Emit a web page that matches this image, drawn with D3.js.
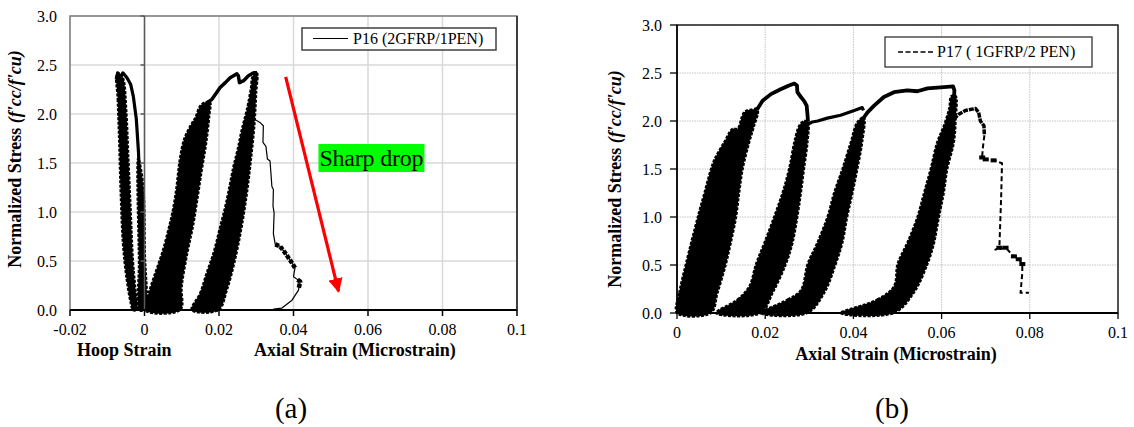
<!DOCTYPE html>
<html><head><meta charset="utf-8">
<script src="https://cdn.jsdelivr.net/npm/d3@7"></script>
<style>
html,body{margin:0;padding:0;background:#fff;}
svg{display:block;font-family:"Liberation Serif","Times New Roman",serif;}
</style></head>
<body>
<svg id="chart" width="1134" height="427"></svg>
<script>
// ---------- shared tick data ----------
const yTicks = [0, 0.5, 1.0, 1.5, 2.0, 2.5, 3.0];
const yTickLabels = ["0.0", "0.5", "1.0", "1.5", "2.0", "2.5", "3.0"];
const leftXTicks = [-0.02, 0, 0.02, 0.04, 0.06, 0.08, 0.1];
const leftXTickLabels = ["-0.02", "0", "0.02", "0.04", "0.06", "0.08", "0.1"];
const rightXTicks = [0, 0.02, 0.04, 0.06, 0.08, 0.1];
const rightXTickLabels = ["0", "0.02", "0.04", "0.06", "0.08", "0.1"];

// ---------- P16 (2GFRP/1PEN) : hoop + axial, cyclic ----------
const p16HoopBand = [[-0.0074,2.41],[-0.0072,2.15],[-0.0068,1.71],[-0.0064,1.19],[-0.0058,0.68],[-0.0049,0.34],[-0.0037,0.07],[-0.0031,0],
  [-0.0021,0],[-0.0025,0.24],[-0.0031,0.51],[-0.0037,1.02],[-0.0043,1.54],[-0.0049,2.05],[-0.0056,2.35],[-0.0064,2.41]];
const p16HoopLine = [[-0.0076,2.35],[-0.0072,2.42],[-0.0065,2.37],[-0.0058,2.42],[-0.0047,2.37],[-0.0037,2.30],[-0.0030,2.18],[-0.0022,1.95],[-0.0016,1.60],[-0.0012,1.19],[-0.0008,0.68],[-0.0005,0.34],[-0.0003,0]];
const p16HoopInner = [[-0.0017,1.55],[-0.0015,0.5],[-0.0013,0],[0.0001,0],[0.0001,0.6],[-0.0004,1.3]];
const p16Band1 = [[0,0],[0.0011,0.17],[0.0029,0.38],[0.0047,0.58],[0.0064,0.82],[0.0076,1.02],[0.0085,1.23],[0.0091,1.43],[0.0096,1.57],[0.0106,1.74],[0.0123,1.88],[0.0136,1.96],[0.0149,2.08],[0.0163,2.12],
  [0.0176,2.12],[0.0174,1.98],[0.0166,1.71],[0.0154,1.43],[0.0142,1.13],[0.0130,0.85],[0.0115,0.58],[0.0100,0.24],[0.0096,0]];
const p16Band2 = [[0.0127,0],[0.0149,0.17],[0.0167,0.38],[0.0185,0.58],[0.0203,0.85],[0.0217,1.06],[0.0228,1.26],[0.0239,1.47],[0.0250,1.64],[0.0261,1.84],[0.0275,2.05],[0.0285,2.25],[0.0291,2.39],
  [0.0302,2.42],[0.0300,2.22],[0.0295,1.88],[0.0286,1.54],[0.0275,1.19],[0.0261,0.85],[0.0243,0.51],[0.0221,0.20],[0.0199,0]];
const p16Envelope = [[0.0170,2.12],[0.0181,2.15],[0.0190,2.20],[0.0203,2.27],[0.0217,2.32],[0.0230,2.37],[0.0248,2.41],[0.0252,2.39],[0.0255,2.32],[0.0266,2.34],[0.0279,2.39],[0.0293,2.42],[0.0302,2.42]];
const p16PostPeak = [[0.0294,1.95],[0.0311,1.91],[0.0319,1.88],[0.0318,1.71],[0.0326,1.67],[0.0330,1.54],[0.0337,1.52],[0.0342,1.26],[0.0346,1.23],[0.0345,1.06],[0.0348,0.99],[0.0346,0.78],[0.0351,0.67],[0.0364,0.65],[0.0378,0.58],[0.0396,0.48],[0.0404,0.43],[0.0400,0.34],[0.0411,0.31],[0.0418,0.29],[0.0413,0.20],[0.0396,0.10],[0.0369,0.02],[0.0346,0.01]];
const p16PostPeakThickA = [[0.0351,0.67],[0.0364,0.65],[0.0378,0.58],[0.0396,0.48],[0.0404,0.43]];
const p16PostPeakThickB = [[0.0411,0.31],[0.0418,0.29],[0.0414,0.22]];
const p16Arrow = [[0.0379,2.38],[0.0521,0.19]];
const p16NoteAnchor = [0.0467, 1.50];

// ---------- P17 (1GFRP/2 PEN) : axial, cyclic ----------
const p17Band1 = [[0,0],[0.0005,0.21],[0.0020,0.51],[0.0047,1.00],[0.0062,1.25],[0.0077,1.50],[0.0085,1.60],[0.0107,1.78],[0.0126,1.92],[0.0137,1.92],[0.0152,2.09],[0.0168,2.12],
  [0.0183,2.11],[0.0175,1.95],[0.0164,1.78],[0.0149,1.50],[0.0141,1.25],[0.0134,1.00],[0.0122,0.73],[0.0111,0.51],[0.0092,0.21],[0.0077,0]];
const p17Band2 = [[0.0088,0],[0.0137,0.14],[0.0164,0.28],[0.0179,0.51],[0.0198,0.73],[0.0220,1.00],[0.0239,1.25],[0.0254,1.50],[0.0266,1.78],[0.0277,1.95],[0.0288,2.00],
  [0.0297,1.99],[0.0296,1.78],[0.0288,1.50],[0.0281,1.25],[0.0273,1.00],[0.0262,0.73],[0.0247,0.51],[0.0217,0.21],[0.0190,0]];
const p17Band3 = [[0.0190,0],[0.0251,0.14],[0.0281,0.24],[0.0296,0.51],[0.0318,0.73],[0.0341,1.00],[0.0356,1.25],[0.0375,1.50],[0.0394,1.78],[0.0409,1.99],
  [0.0424,2.04],[0.0420,1.78],[0.0409,1.50],[0.0398,1.25],[0.0386,1.00],[0.0375,0.73],[0.0360,0.51],[0.0334,0.21],[0.0296,0]];
const p17Band4 = [[0.0371,0],[0.0454,0.14],[0.0492,0.28],[0.0500,0.51],[0.0522,0.73],[0.0545,1.00],[0.0560,1.25],[0.0575,1.50],[0.0590,1.78],[0.0605,1.95],[0.0617,2.13],[0.0622,2.26],
  [0.0632,2.26],[0.0632,2.02],[0.0628,1.78],[0.0613,1.50],[0.0605,1.25],[0.0594,1.00],[0.0583,0.73],[0.0568,0.51],[0.0537,0.21],[0.0492,0]];
const p17Envelope1 = [[0.0176,2.12],[0.0183,2.13],[0.0194,2.21],[0.0213,2.28],[0.0235,2.33],[0.0254,2.37],[0.0266,2.39],[0.0272,2.37],[0.0273,2.30],[0.0281,2.25],[0.0288,2.21],[0.0294,2.16],[0.0296,2.06],[0.0297,1.99]];
const p17Line2 = [[0.0295,1.96],[0.0307,1.99],[0.0319,2.00],[0.0341,2.03],[0.0371,2.06],[0.0402,2.11],[0.0420,2.14],[0.0423,2.11]];
const p17Envelope3 = [[0.0418,2.00],[0.0432,2.09],[0.0447,2.16],[0.0469,2.25],[0.0492,2.30],[0.0522,2.32],[0.0545,2.31],[0.0568,2.34],[0.0598,2.35],[0.0626,2.36],[0.0629,2.32],[0.0628,2.22]];
const p17PeakCap = [[0.0628,2.02],[0.0639,2.07],[0.0654,2.11],[0.0677,2.13],[0.0684,2.09],[0.0688,2.00],[0.0696,1.95],[0.0697,1.85]];
const p17PostPeak = [[0.0697,1.85],[0.0693,1.70],[0.0692,1.62],[0.0700,1.60],[0.0718,1.59],[0.0737,1.56],[0.0735,1.20],[0.0731,0.68],[0.0722,0.66],[0.0745,0.68],[0.0764,0.59],[0.0775,0.56],[0.0783,0.51],[0.0783,0.42],[0.0779,0.21],[0.0798,0.21]];
const p17PostPeakMarks = [[0.0692,1.62],[0.0700,1.60],[0.0718,1.59],[0.0731,0.68],[0.0745,0.68],[0.0764,0.59],[0.0775,0.56],[0.0783,0.51]];

// ---------- layout ----------
const svg = d3.select("#chart");
const serif = "'Liberation Serif','Times New Roman',serif";

function panel(cfg) {
  const x = d3.scaleLinear().domain(cfg.xDomain).range([cfg.x0, cfg.x1]);
  const y = d3.scaleLinear().domain([0, 3]).range([cfg.y0, cfg.y1]);
  const g = svg.append("g");
  const gridStyle = (sel) => sel.attr("stroke", cfg.gridColor).attr("stroke-width", cfg.gridWidth)
      .attr("stroke-dasharray", cfg.gridDash || null);
  g.append("g").selectAll("line").data(cfg.xTicks).join("line")
    .attr("x1", d => x(d)).attr("x2", d => x(d)).attr("y1", y(0)).attr("y2", y(3)).call(gridStyle);
  g.append("g").selectAll("line").data(yTicks).join("line")
    .attr("x1", x(cfg.xDomain[0])).attr("x2", x(cfg.xDomain[1])).attr("y1", d => y(d)).attr("y2", d => y(d)).call(gridStyle);
  g.append("rect").attr("x", cfg.x0).attr("y", cfg.y1).attr("width", cfg.x1 - cfg.x0).attr("height", cfg.y0 - cfg.y1)
    .attr("fill", "none").attr("stroke", cfg.boxColor).attr("stroke-width", cfg.boxWidth);
  return {x, y, g};
}

const L = panel({xDomain: [-0.02, 0.1], x0: 70, x1: 517, y0: 310, y1: 16, xTicks: leftXTicks,
  gridColor: "#d9d9d9", gridWidth: 1.5, boxColor: "#7f7f7f", boxWidth: 1.5});
const R = panel({xDomain: [0, 0.1], x0: 677, x1: 1118, y0: 313, y1: 25, xTicks: rightXTicks,
  gridColor: "#c4c4c4", gridWidth: 1, gridDash: "1.5,1", boxColor: "#000", boxWidth: 1.3});

function band(P, pts) {
  P.g.append("path").attr("d", d3.line().x(d => P.x(d[0])).y(d => P.y(d[1])).curve(d3.curveCatmullRomClosed.alpha(0.5))(pts))
    .attr("fill", "#000").attr("stroke", "#000").attr("stroke-width", 2.2).attr("stroke-dasharray", "3,1.5");
}
function line(P, pts, w, dash) {
  P.g.append("path").attr("d", d3.line().x(d => P.x(d[0])).y(d => P.y(d[1]))(pts))
    .attr("fill", "none").attr("stroke", "#000").attr("stroke-width", w).attr("stroke-dasharray", dash || null)
    .attr("stroke-linejoin", "round");
}

// ---------- left panel marks ----------
band(L, p16HoopBand);
band(L, p16HoopInner);
line(L, p16HoopLine, 3.2);
band(L, p16Band1);
band(L, p16Band2);
line(L, p16Envelope, 3.5);
line(L, p16PostPeak, 1.2);
line(L, p16PostPeakThickA, 4.5, "4,1.5");
line(L, p16PostPeakThickB, 4.5, "4,1.5");

// left axes
L.g.append("line").attr("x1", L.x(0)).attr("x2", L.x(0)).attr("y1", L.y(0)).attr("y2", L.y(3))
  .attr("stroke", "#595959").attr("stroke-width", 1.5);
L.g.append("g").selectAll("line").data(yTicks).join("line")
  .attr("x1", L.x(0) - 4).attr("x2", L.x(0)).attr("y1", d => L.y(d)).attr("y2", d => L.y(d))
  .attr("stroke", "#595959").attr("stroke-width", 1.5);
L.g.append("line").attr("x1", L.x(-0.02)).attr("x2", L.x(0.1)).attr("y1", L.y(0)).attr("y2", L.y(0))
  .attr("stroke", "#000").attr("stroke-width", 2);
L.g.append("g").selectAll("line").data(leftXTicks).join("line")
  .attr("x1", d => L.x(d)).attr("x2", d => L.x(d)).attr("y1", L.y(0)).attr("y2", L.y(0) + 6)
  .attr("stroke", "#000").attr("stroke-width", 1.5);
L.g.append("line").attr("x1", L.x(0.1)).attr("x2", L.x(0.1)).attr("y1", L.y(0)).attr("y2", L.y(3))
  .attr("stroke", "#222").attr("stroke-width", 1.5);
L.g.append("g").selectAll("text").data(leftXTicks).join("text")
  .attr("x", d => L.x(d)).attr("y", 335).attr("text-anchor", "middle")
  .attr("font-size", 16).attr("font-family", serif).text((d, i) => leftXTickLabels[i]);
L.g.append("g").selectAll("text").data(yTicks).join("text")
  .attr("x", 57).attr("y", d => L.y(d) + 5.5).attr("text-anchor", "end")
  .attr("font-size", 16).attr("font-family", serif).text((d, i) => yTickLabels[i]);

// left annotation
const defs = svg.append("defs");
defs.append("marker").attr("id", "redArrow").attr("viewBox", "0 0 10 10").attr("refX", 9).attr("refY", 5)
  .attr("markerWidth", 4.5).attr("markerHeight", 4.5).attr("orient", "auto").attr("markerUnits", "strokeWidth")
  .append("path").attr("d", "M0,0 L10,5 L0,10 z").attr("fill", "#ff0000");
L.g.append("line").attr("x1", L.x(p16Arrow[0][0])).attr("y1", L.y(p16Arrow[0][1]))
  .attr("x2", L.x(p16Arrow[1][0])).attr("y2", L.y(p16Arrow[1][1]))
  .attr("stroke", "#ff0000").attr("stroke-width", 3.2).attr("marker-end", "url(#redArrow)");
const nx = L.x(p16NoteAnchor[0]), ny = L.y(p16NoteAnchor[1]);
L.g.append("rect").attr("x", nx).attr("y", ny - 19).attr("width", 106).attr("height", 28).attr("fill", "#00ff00");
L.g.append("text").attr("x", nx + 1).attr("y", ny + 3).attr("font-size", 24).attr("font-family", serif)
  .attr("textLength", 104).text("Sharp drop");

// left legend
L.g.append("rect").attr("x", 302).attr("y", 28).attr("width", 194).attr("height", 22)
  .attr("fill", "#fff").attr("stroke", "#404040").attr("stroke-width", 1.5);
L.g.append("line").attr("x1", 313).attr("x2", 348).attr("y1", 38.5).attr("y2", 38.5).attr("stroke", "#000").attr("stroke-width", 1);
L.g.append("text").attr("x", 353).attr("y", 44).attr("font-size", 16).attr("font-family", serif).text("P16 (2GFRP/1PEN)");

// titles
function yTitle(cx, cy) {
  const t = svg.append("text").attr("transform", `translate(${cx},${cy}) rotate(-90)`)
    .attr("text-anchor", "middle").attr("font-size", 18).attr("font-weight", "bold").attr("font-family", serif);
  t.append("tspan").text("Normalized Stress ");
  t.append("tspan").attr("font-style", "italic").text("(f'cc/f'cu)");
}
yTitle(21, 159);
svg.append("text").attr("x", 77).attr("y", 356).attr("font-size", 18).attr("font-weight", "bold").attr("font-family", serif).text("Hoop Strain");
svg.append("text").attr("x", 254).attr("y", 356).attr("font-size", 18).attr("font-weight", "bold").attr("font-family", serif).text("Axial Strain (Microstrain)");
svg.append("text").attr("x", 291).attr("y", 418).attr("text-anchor", "middle").attr("font-size", 29).attr("font-family", serif).text("(a)");

// ---------- right panel marks ----------
band(R, p17Band1);
band(R, p17Band2);
band(R, p17Band3);
band(R, p17Band4);
line(R, p17Envelope1, 3.8);
line(R, p17Line2, 3.2);
line(R, p17Envelope3, 3.8);
line(R, p17PeakCap, 3.5, "5,1");
line(R, p17PostPeak, 2, "5,3");
R.g.append("g").selectAll("rect").data(p17PostPeakMarks).join("rect")
  .attr("x", d => R.x(d[0]) - 3).attr("y", d => R.y(d[1]) - 2).attr("width", 6).attr("height", 4).attr("fill", "#000");

// right axes
R.g.append("line").attr("x1", R.x(0)).attr("x2", R.x(0)).attr("y1", R.y(0)).attr("y2", R.y(3)).attr("stroke", "#000").attr("stroke-width", 1.5);
R.g.append("g").selectAll("line").data(yTicks).join("line")
  .attr("x1", R.x(0) - 7).attr("x2", R.x(0)).attr("y1", d => R.y(d)).attr("y2", d => R.y(d)).attr("stroke", "#000").attr("stroke-width", 1.3);
R.g.append("line").attr("x1", R.x(0)).attr("x2", R.x(0.1)).attr("y1", R.y(0)).attr("y2", R.y(0)).attr("stroke", "#000").attr("stroke-width", 2);
R.g.append("g").selectAll("line").data(rightXTicks).join("line")
  .attr("x1", d => R.x(d)).attr("x2", d => R.x(d)).attr("y1", R.y(0)).attr("y2", R.y(0) + 6).attr("stroke", "#000").attr("stroke-width", 1.3);
R.g.append("g").selectAll("text").data(rightXTicks).join("text")
  .attr("x", d => R.x(d)).attr("y", 338).attr("text-anchor", "middle")
  .attr("font-size", 16).attr("font-family", serif).text((d, i) => rightXTickLabels[i]);
R.g.append("g").selectAll("text").data(yTicks).join("text")
  .attr("x", 662).attr("y", d => R.y(d) + 5.5).attr("text-anchor", "end")
  .attr("font-size", 16).attr("font-family", serif).text((d, i) => yTickLabels[i]);

// right legend
R.g.append("rect").attr("x", 885).attr("y", 37).attr("width", 207).attr("height", 30)
  .attr("fill", "#fff").attr("stroke", "#333").attr("stroke-width", 1.3);
R.g.append("line").attr("x1", 898).attr("x2", 935).attr("y1", 52).attr("y2", 52)
  .attr("stroke", "#000").attr("stroke-width", 1.5).attr("stroke-dasharray", "5,2.5");
R.g.append("text").attr("x", 937).attr("y", 57).attr("font-size", 16).attr("font-family", serif).text("P17 ( 1GFRP/2 PEN)");

yTitle(621, 179);
svg.append("text").attr("x", 896).attr("y", 360).attr("text-anchor", "middle").attr("font-size", 18).attr("font-weight", "bold").attr("font-family", serif).text("Axial Strain (Microstrain)");
svg.append("text").attr("x", 892).attr("y", 418).attr("text-anchor", "middle").attr("font-size", 29).attr("font-family", serif).text("(b)");
</script>
</body></html>
